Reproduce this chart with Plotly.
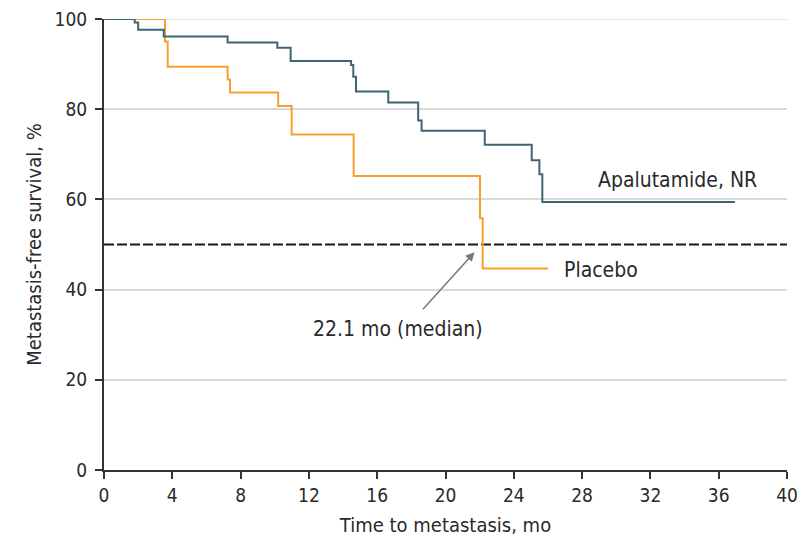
import plotly.graph_objects as go

# Apalutamide step curve (month, survival %)
apa_t = [0, 1.8, 2.0, 3.5, 7.24, 10.15, 10.93, 14.47, 14.6, 14.76, 16.65, 18.4, 18.6, 22.3, 25.05, 25.5, 25.67, 36.95]
apa_s = [100, 99.2, 97.6, 96.1, 94.8, 93.6, 90.7, 89.8, 87.2, 83.9, 81.5, 77.5, 75.2, 72.1, 68.7, 65.6, 59.4, 59.4]

# Placebo step curve
pla_t = [0, 3.57, 3.73, 7.24, 7.38, 10.2, 10.99, 14.62, 22.02, 22.18, 26.0]
pla_s = [100, 95.0, 89.4, 86.6, 83.7, 80.7, 74.4, 65.2, 55.8, 44.7, 44.7]

x_ticks = [0, 4, 8, 12, 16, 20, 24, 28, 32, 36, 40]
y_ticks = [0, 20, 40, 60, 80, 100]
median_level = 50
median_time = 22.1

FONT = "DejaVu Sans Condensed, DejaVu Sans, sans-serif"
TXT = "#2a2a2a"
TEAL = "#3e6570"
ORANGE = "#f7a02e"

fig = go.Figure()
fig.add_shape(type="line", xref="x", yref="y", x0=0, x1=40, y0=100, y1=100,
              line=dict(color="#d9d9d9", width=1.5), layer="below")
fig.add_trace(go.Scatter(x=[0, 40], y=[median_level, median_level], mode="lines",
                         line=dict(color="#1a1a1a", width=2, dash="10px,3px"),
                         showlegend=False, hoverinfo="skip"))
fig.add_trace(go.Scatter(x=pla_t, y=pla_s, mode="lines", line_shape="hv",
                         line=dict(color=ORANGE, width=2), showlegend=False, cliponaxis=False))
fig.add_trace(go.Scatter(x=apa_t, y=apa_s, mode="lines", line_shape="hv",
                         line=dict(color=TEAL, width=2), showlegend=False, cliponaxis=False))

fig.add_annotation(x=33.6, y=64.3, text="Apalutamide, NR", showarrow=False,
                   font=dict(family=FONT, size=21, color=TXT))
fig.add_annotation(x=29.1, y=44.3, text="Placebo", showarrow=False,
                   font=dict(family=FONT, size=21, color=TXT))
fig.add_annotation(x=17.2, y=31.3, text=f"{median_time} mo (median)", showarrow=False,
                   font=dict(family=FONT, size=21, color=TXT))
fig.add_annotation(x=21.7, y=48.3, ax=18.6, ay=35.3, xref="x", yref="y", axref="x", ayref="y",
                   text="", showarrow=True, arrowhead=2, arrowsize=1.2, arrowwidth=1.5,
                   arrowcolor="#7a7a7a")

fig.update_layout(
    width=797, height=538,
    margin=dict(l=96, r=18, t=11, b=76, autoexpand=False),
    plot_bgcolor="white", paper_bgcolor="white",
    font=dict(family=FONT, size=18, color=TXT),
    xaxis=dict(range=[0, 40], tickvals=x_ticks, showgrid=False, zeroline=False,
               showline=True, linecolor="#333", linewidth=2, ticks="outside",
               ticklen=7, tickwidth=2, tickcolor="#333", automargin=False,
               ticklabeloverflow="allow",
               title=dict(text="Time to metastasis, mo", font=dict(size=20), standoff=13),
               tickfont=dict(size=19)),
    yaxis=dict(range=[0, 100], tickvals=y_ticks, showgrid=True, gridcolor="#d9d9d9",
               gridwidth=1.5, zeroline=False, showline=True, linecolor="#333", linewidth=2,
               ticks="outside", ticklen=7, tickwidth=2, tickcolor="#333", automargin=False,
               ticklabelstandoff=4, ticklabeloverflow="allow",
               title=dict(text="Metastasis-free survival, %", font=dict(size=20), standoff=8),
               tickfont=dict(size=19)),
)

fig.write_html("out.html")
